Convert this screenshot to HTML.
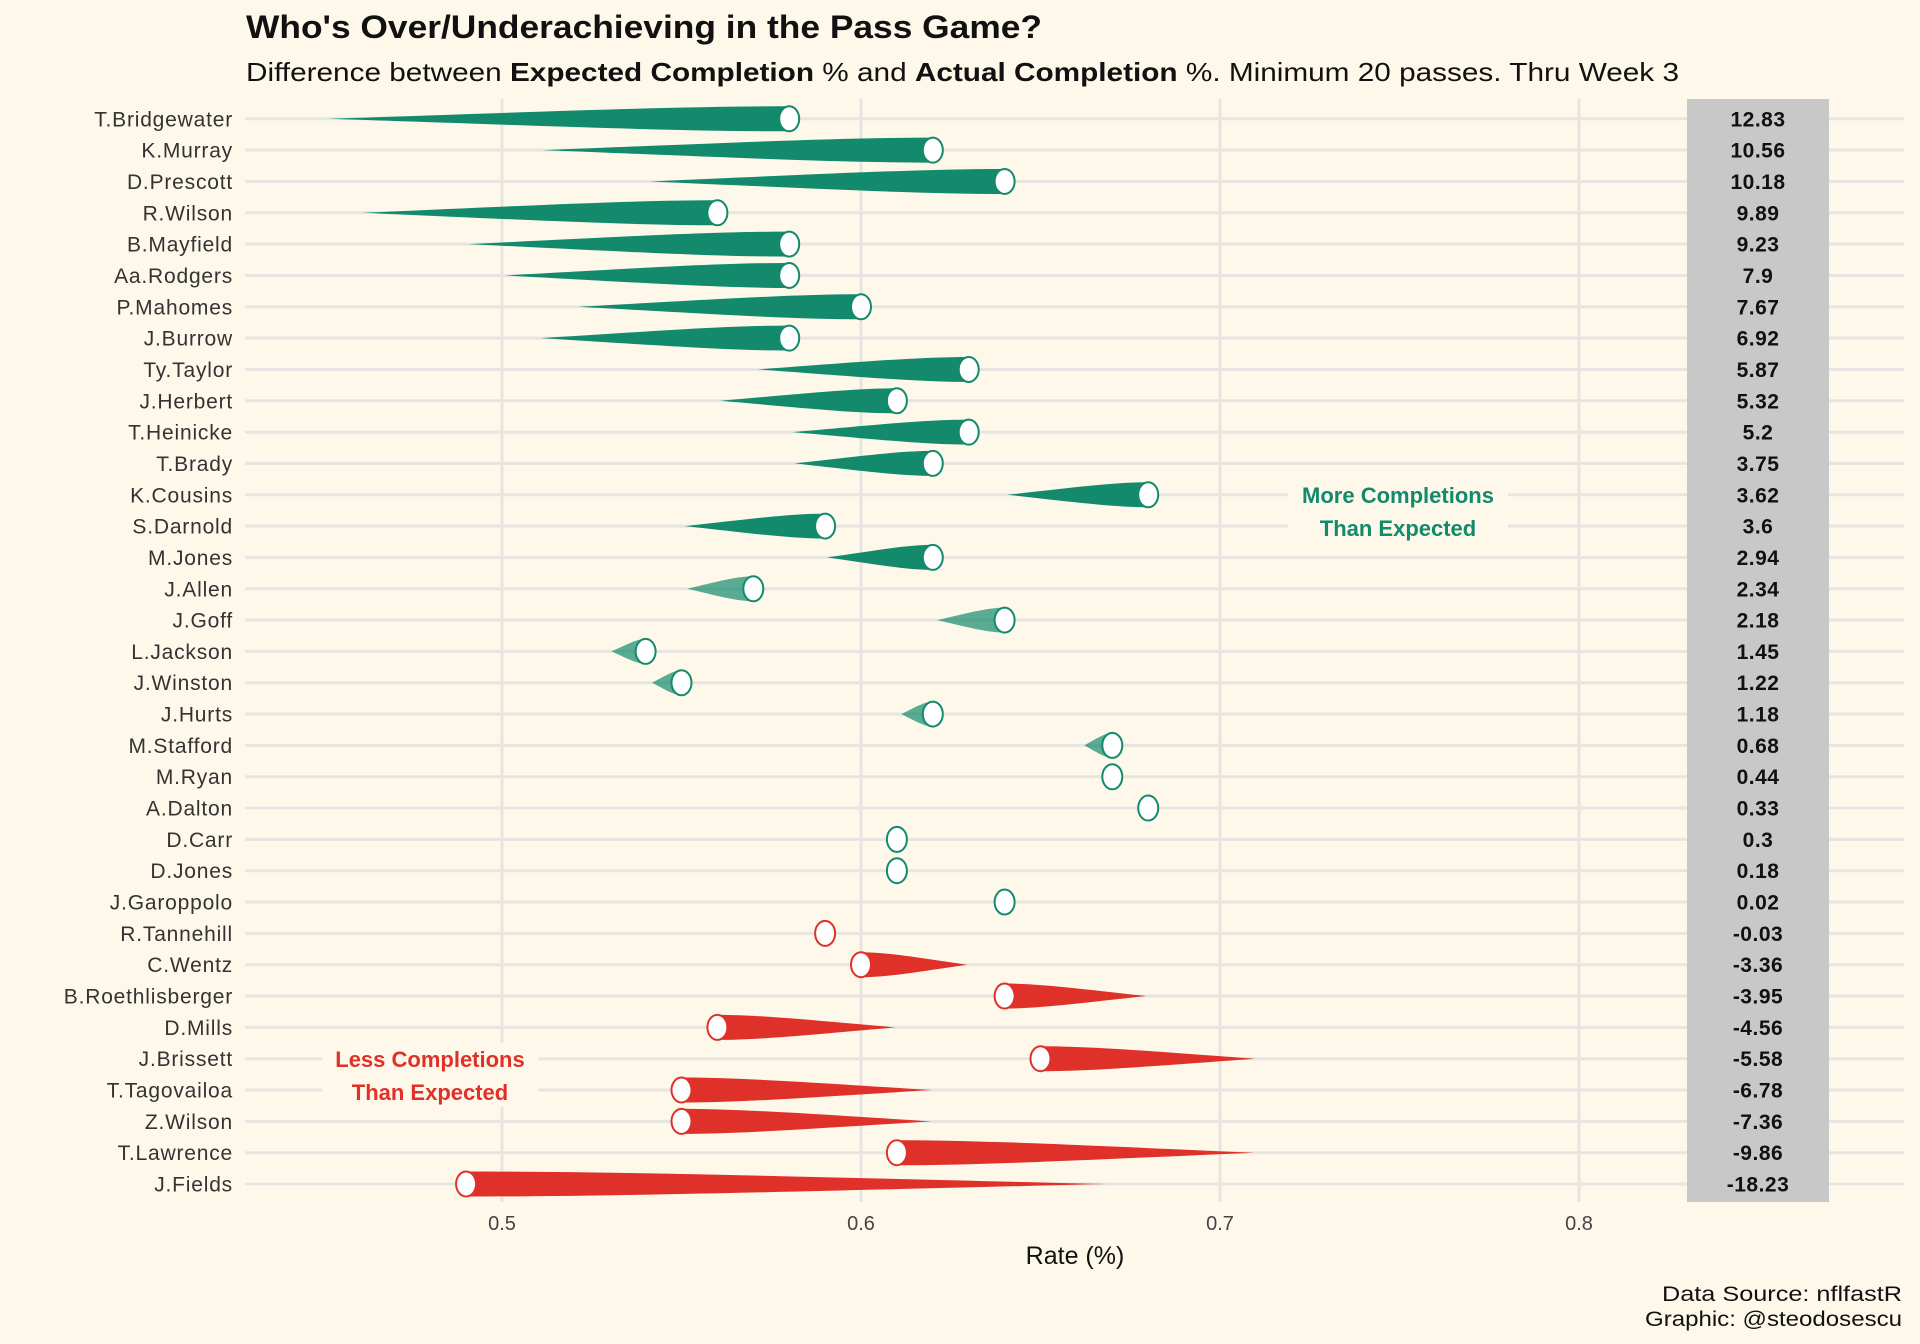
<!DOCTYPE html>
<html><head><meta charset="utf-8">
<style>
body{margin:0;background:#fdf8ea;}
svg{display:block;font-family:"Liberation Sans",sans-serif;}
</style></head>
<body>
<svg id="chart" width="1920" height="1344" viewBox="0 0 1920 1344" xmlns="http://www.w3.org/2000/svg">
<rect x="0" y="0" width="1920" height="1344" fill="#fdf8ea"/>
<text x="246" y="38" font-size="32" font-weight="bold" fill="#111" textLength="796" lengthAdjust="spacingAndGlyphs">Who's Over/Underachieving in the Pass Game?</text>
<text x="246" y="81" font-size="26" fill="#111" textLength="1433" lengthAdjust="spacingAndGlyphs">Difference between <tspan font-weight="bold">Expected Completion</tspan> % and <tspan font-weight="bold">Actual Completion</tspan> %. Minimum 20 passes. Thru Week 3</text>
<g id="grid"></g>
<rect x="1687" y="99" width="142" height="1103" fill="#c8c8c8"/>
<g id="marks"></g>
<g id="annot">
<rect x="1288" y="478" width="220" height="64" fill="#fdf8ea"/>
<text x="1398" y="503" font-size="22" font-weight="bold" fill="#138a6c" text-anchor="middle">More Completions</text>
<text x="1398" y="536" font-size="22" font-weight="bold" fill="#138a6c" text-anchor="middle">Than Expected</text>
<rect x="322" y="1043" width="216" height="64" fill="#fdf8ea"/>
<text x="430" y="1067" font-size="22" font-weight="bold" fill="#e0302a" text-anchor="middle">Less Completions</text>
<text x="430" y="1100" font-size="22" font-weight="bold" fill="#e0302a" text-anchor="middle">Than Expected</text>
</g>
<text x="1075" y="1264" font-size="25" fill="#111" text-anchor="middle">Rate (%)</text>
<text x="1902" y="1301" font-size="21" fill="#111" text-anchor="end" textLength="240" lengthAdjust="spacingAndGlyphs">Data Source: nflfastR</text>
<text x="1902" y="1326" font-size="21" fill="#111" text-anchor="end" textLength="257" lengthAdjust="spacingAndGlyphs">Graphic: @steodosescu</text>
</svg>
<script>
const players = ["T.Bridgewater","K.Murray","D.Prescott","R.Wilson","B.Mayfield","Aa.Rodgers","P.Mahomes","J.Burrow","Ty.Taylor","J.Herbert","T.Heinicke","T.Brady","K.Cousins","S.Darnold","M.Jones","J.Allen","J.Goff","L.Jackson","J.Winston","J.Hurts","M.Stafford","M.Ryan","A.Dalton","D.Carr","D.Jones","J.Garoppolo","R.Tannehill","C.Wentz","B.Roethlisberger","D.Mills","J.Brissett","T.Tagovailoa","Z.Wilson","T.Lawrence","J.Fields"];
const actual = [0.58,0.62,0.64,0.56,0.58,0.58,0.60,0.58,0.63,0.61,0.63,0.62,0.68,0.59,0.62,0.57,0.64,0.54,0.55,0.62,0.67,0.67,0.68,0.61,0.61,0.64,0.59,0.60,0.64,0.56,0.65,0.55,0.55,0.61,0.49];
const expected = [0.4517,0.5114,0.5412,0.4611,0.4907,0.501,0.5213,0.5108,0.5713,0.5608,0.581,0.5815,0.6408,0.551,0.5906,0.5516,0.6212,0.5305,0.5418,0.6112,0.6622,0.6696,0.6767,0.607,0.6082,0.6398,0.5903,0.6296,0.6795,0.6096,0.7098,0.6198,0.6196,0.7096,0.6683];
const diffs = ["12.83","10.56","10.18","9.89","9.23","7.9","7.67","6.92","5.87","5.32","5.2","3.75","3.62","3.6","2.94","2.34","2.18","1.45","1.22","1.18","0.68","0.44","0.33","0.3","0.18","0.02","-0.03","-3.36","-3.95","-4.56","-5.58","-6.78","-7.36","-9.86","-18.23"];
const xTicks = [0.5,0.6,0.7,0.8];

const NS = "http://www.w3.org/2000/svg";
const x = v => 502 + (v - 0.5) * 3590;
const y = i => 118.8 + i * 31.33;
function mk(tag, attrs, parent){const e=document.createElementNS(NS,tag);for(const k in attrs)e.setAttribute(k,attrs[k]);parent.appendChild(e);return e;}
const grid=document.getElementById('grid'), marks=document.getElementById('marks'), svg=document.getElementById('chart');

xTicks.forEach(t=>{
  const l=mk('line',{x1:x(t),x2:x(t),y1:99,y2:1202,stroke:'#e6e5e1','stroke-width':3},grid);
  
  
  const tx=mk('text',{x:x(t),y:1230,'font-size':20,fill:'#444','text-anchor':'middle'},svg);
  tx.textContent=String(t);
  
  
});
players.forEach((p,i)=>{
  const yy=y(i);
  const l=mk('line',{x1:245,x2:1904,y1:yy,y2:yy,stroke:'#e6e5e1','stroke-width':3},grid);
  
  
  const lab=mk('text',{x:233,y:yy+7.5,'font-size':21,fill:'#333','text-anchor':'end','letter-spacing':'0.8'},svg);
  lab.textContent=p;
  
  
  const d=parseFloat(diffs[i]);
  const pos=d>=0;
  const col=pos?'#138a6c':'#e0302a';
  const xa=x(actual[i]), xe=x(expected[i]);
  if(Math.abs(xa-xe)>18){
    const h=12.5;
    const L=xa-xe;
    const path=`M${xe},${yy} C${xe+L*0.45},${yy-h*0.55} ${xa-L*0.25},${yy-h} ${xa},${yy-h} L${xa},${yy+h} C${xa-L*0.25},${yy+h} ${xe+L*0.45},${yy+h*0.55} ${xe},${yy} Z`;
    const tail=mk('path',{d:path,fill:col,'fill-opacity':Math.abs(d)<2.5?0.7:1},marks);
    
    
  }
  const c=mk('ellipse',{cx:xa,cy:yy,rx:10,ry:12.5,fill:'#fff',stroke:col,'stroke-width':2},marks);
  
  
  const v=mk('text',{x:1758,y:yy+7.5,'font-size':21,'font-weight':'bold',fill:'#111','text-anchor':'middle','letter-spacing':'0.5'},svg);
  v.textContent=diffs[i];
  
  
});
</script>
</body></html>
